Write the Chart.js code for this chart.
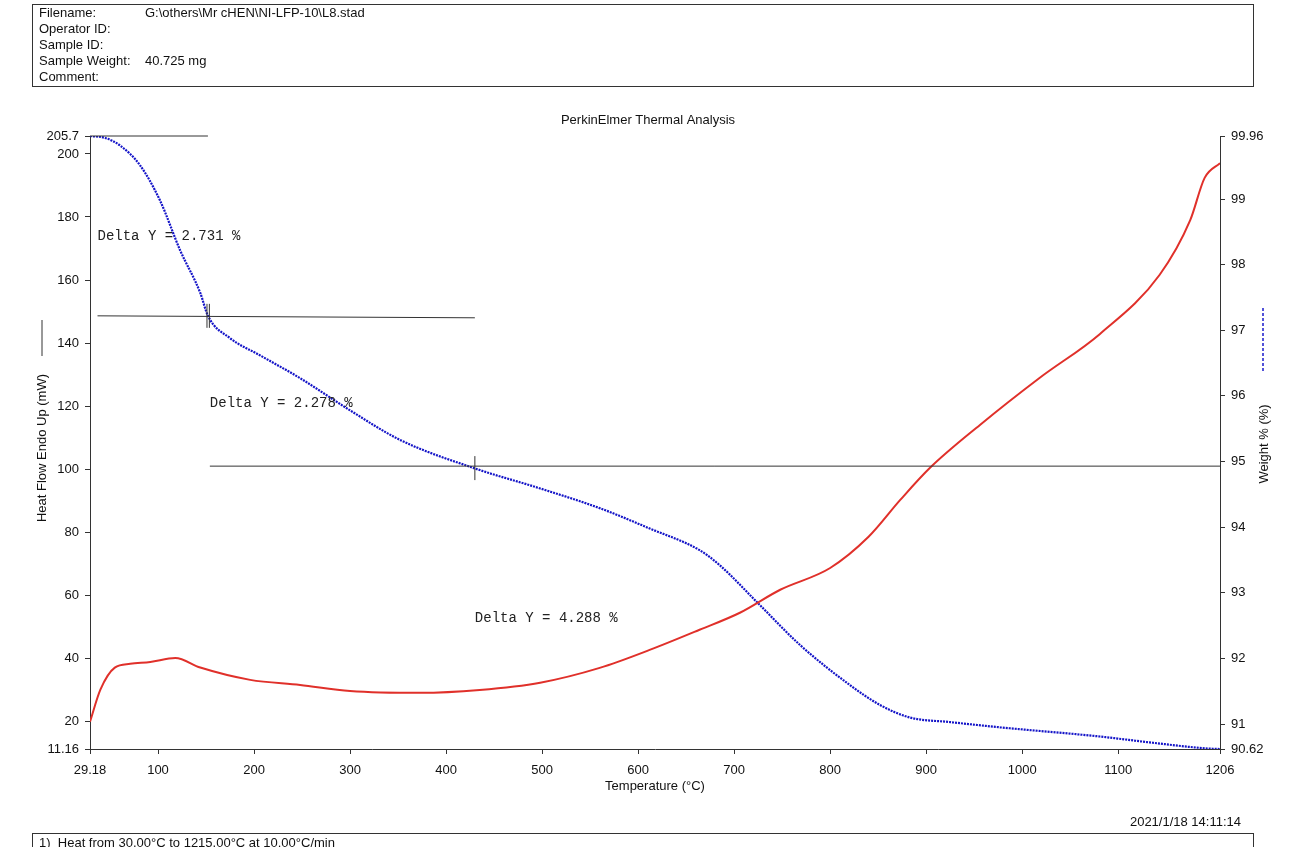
<!DOCTYPE html>
<html>
<head>
<meta charset="utf-8">
<script src="https://cdn.jsdelivr.net/npm/chart.js@4"></script>
<style>
  body { margin:0; background:#fff; font-family:"Liberation Sans", Arial, sans-serif; }
  #wrap { position:relative; width:1290px; height:847px; overflow:hidden; }
  #chart { position:absolute; left:0; top:0; }
  .box { position:absolute; border:1px solid #333; font-size:13px; color:#111; }
  #head { left:32px; top:4px; width:1222px; height:83px; line-height:16px; padding-left:6px; box-sizing:border-box; }
  #head span { display:inline-block; width:106px; }
  #foot { left:32px; top:833px; width:1222px; height:30px; padding-left:6px; box-sizing:border-box; line-height:18px; }
</style>
</head>
<body>
<div id="wrap">
  <canvas id="chart" width="1290" height="847"></canvas>
  <div class="box" id="head">
    <div><span>Filename:</span>G:\others\Mr cHEN\NI-LFP-10\L8.stad</div>
    <div>Operator ID:</div>
    <div>Sample ID:</div>
    <div><span>Sample Weight:</span>40.725 mg</div>
    <div>Comment:</div>
  </div>
  <div class="box" id="foot">1)&nbsp; Heat from 30.00°C to 1215.00°C at 10.00°C/min</div>
</div>
<script>
// ─────────────────────────────────────────────
// Data
// ─────────────────────────────────────────────
const weightData = [
  [29.18, 99.96], [45, 99.93], [60, 99.82], [81, 99.52], [102, 98.98], [123, 98.22],
  [144, 97.57], [152, 97.22], [175, 96.88], [206, 96.62], [248, 96.27], [300, 95.78],
  [352, 95.33], [429, 94.90], [498, 94.59], [560, 94.29], [612, 93.98], [664, 93.65],
  [685, 93.42], [727, 92.81], [769, 92.20], [821, 91.59], [852, 91.29], [883, 91.10],
  [925, 91.03], [977, 90.95], [1081, 90.81], [1133, 90.72], [1191, 90.63], [1206, 90.62],
];
const heatData = [
  [29.18, 19.8], [40, 30], [55, 37], [71, 38.2], [92, 38.8], [118, 40], [144, 37],
  [196, 33.1], [248, 31.5], [300, 29.6], [373, 29], [435, 29.9], [498, 32.2], [560, 36.9],
  [612, 42.6], [664, 49], [706, 54.4], [748, 61.7], [800, 68.6], [840, 78.5], [873, 90.2],
  [904, 100.4], [956, 114], [1018, 128.9], [1081, 142.9], [1143, 161.6], [1175, 179],
  [1190, 192.4], [1206, 197.1],
];
const toPts = (arr) => arr.map(([x, y]) => ({ x, y }));

// Delta annotations: text position (temp, heat-flow) and marker lines
const deltas = [
  { text: 'Delta Y = 2.731 %', x: 37,  y: 174 },
  { text: 'Delta Y = 2.278 %', x: 154, y: 121 },
  { text: 'Delta Y = 4.288 %', x: 430, y: 52.5 },
];

const FONT = '13px "Liberation Sans", Arial, sans-serif';

// ─────────────────────────────────────────────
// Overlay plugin: annotation lines + titles
// ─────────────────────────────────────────────
const overlay = {
  id: 'overlay',
  afterDraw(chart) {
    const { ctx, chartArea: a } = chart;
    const sx = chart.scales.x, sl = chart.scales.yL, sr = chart.scales.yR;
    ctx.save();
    ctx.strokeStyle = '#333';
    ctx.lineWidth = 1;
    const seg = (x1, y1, x2, y2) => { ctx.beginPath(); ctx.moveTo(x1, y1); ctx.lineTo(x2, y2); ctx.stroke(); };
    // reference lines
    seg(a.left, sl.getPixelForValue(205.7), sx.getPixelForValue(152), sl.getPixelForValue(205.7));
    seg(sx.getPixelForValue(37), sr.getPixelForValue(97.22), sx.getPixelForValue(430), sr.getPixelForValue(97.19));
    seg(sx.getPixelForValue(154), sr.getPixelForValue(94.93), a.right, sr.getPixelForValue(94.93));
    // markers
    const mk = (t, w) => { const px = sx.getPixelForValue(t), py = sr.getPixelForValue(w); seg(px, py - 12, px, py + 12); };
    mk(151, 97.22); mk(153.5, 97.22); mk(430, 94.90);
    // delta texts
    ctx.fillStyle = '#222';
    ctx.font = '14px "Liberation Mono", "DejaVu Sans Mono", monospace';
    ctx.textBaseline = 'middle';
    deltas.forEach((d) => ctx.fillText(d.text, sx.getPixelForValue(d.x), sl.getPixelForValue(d.y)));
    // titles
    ctx.font = FONT;
    ctx.fillStyle = '#111';
    ctx.textAlign = 'center';
    ctx.fillText('PerkinElmer Thermal Analysis', (a.left + a.right) / 2 - 7, 120);
    ctx.fillText('Temperature (°C)', 655, 786);
    ctx.textAlign = 'right';
    ctx.fillText('2021/1/18 14:11:14', 1241, 822);
    // left axis title with solid legend line
    ctx.save();
    ctx.translate(42, 448);
    ctx.rotate(-Math.PI / 2);
    ctx.textAlign = 'center';
    ctx.fillText('Heat Flow Endo Up (mW)', 0, 0);
    ctx.restore();
    seg(42, 320, 42, 356);
    // right axis title with dashed legend line
    ctx.save();
    ctx.translate(1264, 444);
    ctx.rotate(-Math.PI / 2);
    ctx.textAlign = 'center';
    ctx.fillText('Weight % (%)', 0, 0);
    ctx.restore();
    ctx.strokeStyle = '#1a1acc';
    ctx.lineWidth = 1.5;
    ctx.setLineDash([3, 2]);
    seg(1263, 308, 1263, 372);
    ctx.restore();
  },
};

const fixedTicks = (vals) => (scale) => { scale.ticks = vals.map((v) => ({ value: v })); };
const fmt = (v) => (Number.isInteger(v) ? String(v) : v.toFixed(2));

new Chart(document.getElementById('chart'), {
  type: 'line',
  data: {
    datasets: [
      {
        label: 'Heat Flow', data: toPts(heatData), yAxisID: 'yL',
        borderColor: '#e0302a', borderWidth: 2, pointRadius: 0, cubicInterpolationMode: 'monotone',
      },
      {
        label: 'Weight', data: toPts(weightData), yAxisID: 'yR',
        borderColor: '#1515c8', borderWidth: 2.2, borderDash: [2, 1], pointRadius: 0, cubicInterpolationMode: 'monotone',
      },
    ],
  },
  options: {
    responsive: false,
    animation: false,
    layout: { padding: { top: 136, left: 0, right: 0, bottom: 0 } },
    plugins: { legend: { display: false }, tooltip: { enabled: false } },
    scales: {
      x: {
        type: 'linear', min: 29.18, max: 1206,
        afterBuildTicks: fixedTicks([29.18, 100, 200, 300, 400, 500, 600, 700, 800, 900, 1000, 1100, 1206]),
        afterFit: (s) => { s.height = 98; },
        grid: { drawOnChartArea: false, tickLength: 5, color: '#333' },
        border: { color: '#333' },
        ticks: { color: '#111', font: { family: 'Liberation Sans', size: 13 }, maxRotation: 0, padding: 9, callback: fmt },
      },
      yL: {
        type: 'linear', position: 'left', min: 11.16, max: 205.7,
        afterBuildTicks: fixedTicks([11.16, 20, 40, 60, 80, 100, 120, 140, 160, 180, 200, 205.7]),
        afterFit: (s) => { s.width = 90; },
        grid: { drawOnChartArea: false, tickLength: 5, color: '#333' },
        border: { color: '#333' },
        ticks: { color: '#111', font: { family: 'Liberation Sans', size: 13 }, padding: 6, callback: (v) => (v === 205.7 ? '205.7' : fmt(v)) },
      },
      yR: {
        type: 'linear', position: 'right', min: 90.62, max: 99.96,
        afterBuildTicks: fixedTicks([90.62, 91, 92, 93, 94, 95, 96, 97, 98, 99, 99.96]),
        afterFit: (s) => { s.width = 70; },
        grid: { drawOnChartArea: false, tickLength: 5, color: '#333' },
        border: { color: '#333' },
        ticks: { color: '#111', font: { family: 'Liberation Sans', size: 13 }, padding: 6, callback: fmt },
      },
    },
  },
  plugins: [overlay],
});
</script>
</body>
</html>
